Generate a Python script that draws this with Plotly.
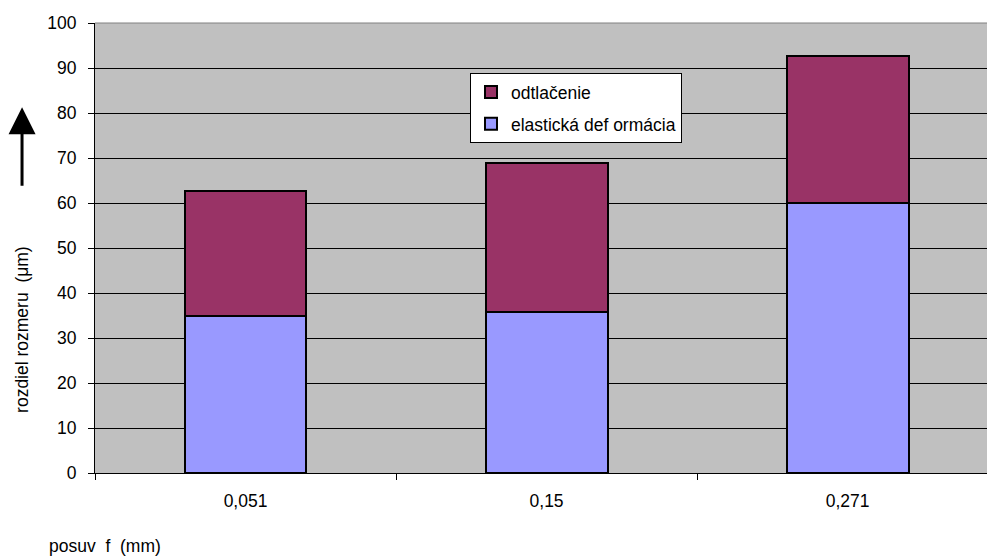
import plotly.graph_objects as go

# feed rate categories (mm)
feeds = ["0,051", "0,15", "0,271"]
# elastic deformation part of the size difference (µm)
elastic = [35, 35.8, 60]
# indentation part stacked on top (µm)
indentation = [27.7, 33.2, 32.6]

FONT = "Liberation Sans, Arial, sans-serif"
FS = 17.5

fig = go.Figure()
fig.add_trace(go.Bar(
    x=feeds, y=elastic, name="elastická def ormácia",
    marker=dict(color="#9999FF", line=dict(color="black", width=2)),
    width=0.405, legendgroup="g2", legendrank=2,
))
fig.add_trace(go.Bar(
    x=feeds, y=indentation, name="odtlačenie",
    marker=dict(color="#993366", line=dict(color="black", width=2)),
    width=0.405, legendgroup="g1", legendrank=1,
))

fig.update_layout(
    width=987, height=558,
    margin=dict(l=95, r=0, t=22.5, b=84.5),
    barmode="stack",
    paper_bgcolor="white",
    plot_bgcolor="#C0C0C0",
    font=dict(family=FONT, size=FS, color="black"),
    showlegend=True,
    legend=dict(
        x=0.4204, y=0.8887, xanchor="left", yanchor="top",
        bgcolor="white", bordercolor="black", borderwidth=1,
        traceorder="grouped", tracegroupgap=6,
        itemwidth=30,
        font=dict(family=FONT, size=17.5, color="black"),
    ),
    xaxis=dict(
        type="category",
        range=[-0.5, 2.463],
        showline=True, linecolor="black", linewidth=1,
        ticks="outside", tickson="boundaries", ticklen=6, tickcolor="black",
        showgrid=False,
        tickfont=dict(family=FONT, size=FS),
        ticklabelstandoff=12,
    ),
    yaxis=dict(
        range=[0, 100], dtick=10,
        showline=True, linecolor="black", linewidth=1,
        ticks="outside", ticklen=6, tickcolor="black",
        showgrid=True, gridcolor="black", gridwidth=1,
        zeroline=False,
        tickfont=dict(family=FONT, size=FS),
        ticklabelstandoff=8,
    ),
    shapes=[dict(type="line", xref="paper", yref="paper", x0=0, x1=1, y0=1, y1=1,
                 line=dict(color="#808080", width=1))],
    annotations=[
        dict(text="rozdiel rozmeru  (μm)", textangle=-90, xref="paper", yref="paper",
             x=-0.0818, y=0.318, xanchor="center", yanchor="middle", showarrow=False,
             font=dict(family=FONT, size=FS)),
        dict(text="posuv  f  (mm)", xref="paper", yref="paper",
             x=-0.0536, y=-0.163, xanchor="left", yanchor="middle", showarrow=False,
             font=dict(family=FONT, size=FS)),
        dict(text="", xref="paper", yref="paper", x=-0.0818, y=0.8126,
             showarrow=True, ax=0, ay=80, arrowhead=2, arrowsize=1.8,
             arrowwidth=3, arrowcolor="black"),
    ],
)

fig.write_html("out.html")
